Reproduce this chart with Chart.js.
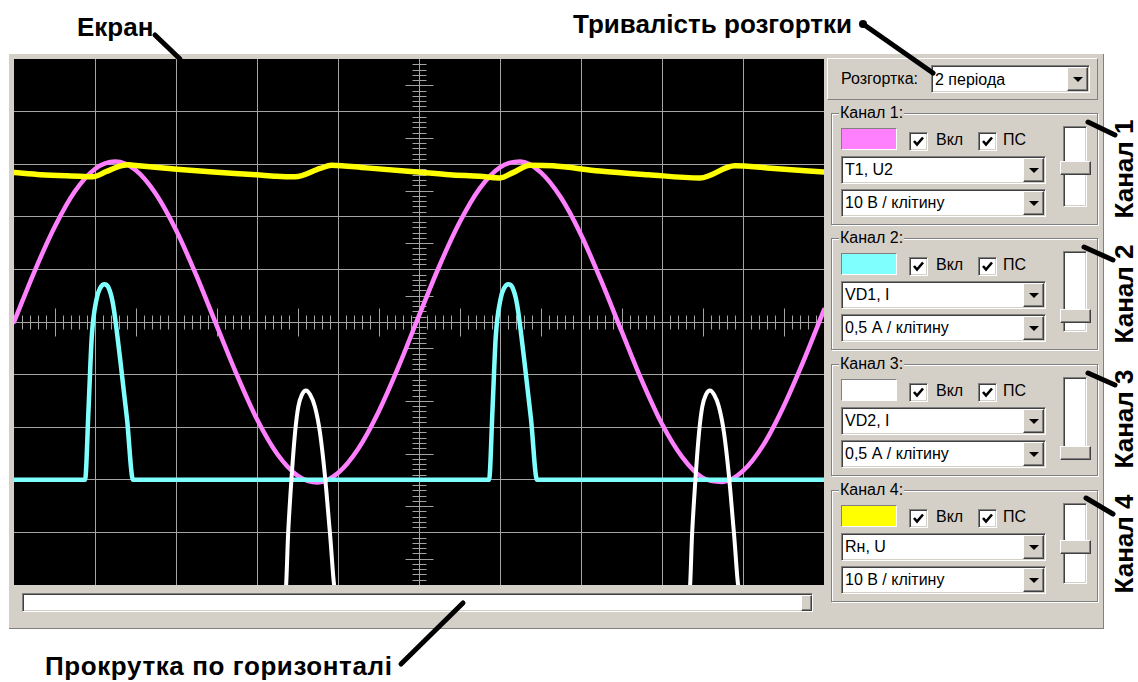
<!DOCTYPE html>
<html lang="uk">
<head>
<meta charset="utf-8">
<title>Осцилограф</title>
<script src="https://cdn.jsdelivr.net/npm/chart.js@4.4.1/dist/chart.umd.min.js"></script>
<style>
  html, body { margin: 0; padding: 0; background: #fff; }
  body { width: 1138px; height: 682px; position: relative; overflow: hidden;
         font-family: "Liberation Sans", Arial, sans-serif; font-size: 16px; color: #000; }
  .abs { position: absolute; box-sizing: border-box; }
  .note { position: absolute; font-weight: bold; font-size: 26px; line-height: 26px; white-space: nowrap; }
  .vnote { position: absolute; font-weight: bold; font-size: 26px; line-height: 26px; white-space: nowrap;
           transform: translate(-50%, -50%) rotate(-90deg); }
  .frame { left: 9px; top: 54px; width: 1095px; height: 575px; background: #d4d0c8;
           border-right: 1px solid #808080; border-bottom: 1px solid #808080; }
  .screen { left: 14px; top: 59px; width: 810px; height: 526px; background: #000; }
  .raised { background: #d4d0c8; border-top: 1px solid #fff; border-left: 1px solid #fff;
            border-right: 1px solid #404040; border-bottom: 1px solid #404040;
            box-shadow: inset -1px -1px 0 #808080; }
  .sunken { background: #fff; border-top: 1px solid #808080; border-left: 1px solid #808080;
            border-right: 1px solid #fff; border-bottom: 1px solid #fff;
            box-shadow: inset 1px 1px 0 #404040, inset -1px -1px 0 #d4d0c8; }
  .group { position: absolute; left: 831px; width: 267px; height: 112px; box-sizing: border-box;
           border: 1px solid #808080; box-shadow: inset 1px 1px 0 #fff, 1px 1px 0 #fff; }
  .glabel { position: absolute; left: 7px; top: -10px; line-height: 18px; background: #d4d0c8; padding: 0 1px; }
  .swatch { position: absolute; left: 9px; top: 14px; width: 56px; height: 22px; box-sizing: border-box;
            border-top: 1px solid #808080; border-left: 1px solid #808080;
            border-right: 1px solid #fff; border-bottom: 1px solid #fff; }
  .chk { position: absolute; top: 18px; width: 17px; height: 17px; }
  .chk svg { position: absolute; left: 1px; top: 1px; }
  .clabel { position: absolute; top: 17px; line-height: 18px; }
  .combo { position: absolute; height: 26px; }
  .combo .txt { position: absolute; left: 3px; top: 3px; line-height: 19px; white-space: nowrap; }
  .combo .btn { position: absolute; right: 1px; top: 1px; width: 21px; bottom: 1px; box-sizing: border-box; }
  .combo .btn::after { content: ""; position: absolute; left: 5px; top: 9px; width: 0; height: 0;
                       border-left: 5px solid transparent; border-right: 5px solid transparent;
                       border-top: 5px solid #000; }
  .track { position: absolute; left: 231px; top: 12px; width: 22px; height: 79px; }
  .thumb { position: absolute; left: 228px; width: 29px; height: 12px; }
</style>
</head>
<body>

<!-- window frame -->
<div class="abs frame"></div>
<div class="abs screen"><canvas id="scope" width="810" height="526" style="display:block;width:810px;height:526px"></canvas></div>

<!-- horizontal scroll bar -->
<div class="abs sunken" style="left:22px;top:593px;width:791px;height:19px;"></div>
<div class="abs raised" style="left:801px;top:595px;width:11px;height:16px;"></div>

<!-- sweep selector -->
<div class="abs raised" style="left:827px;top:58px;width:271px;height:42px;box-shadow:none;border-right-color:#808080;border-bottom-color:#808080;"></div>
<div class="abs" style="left:841px;top:70px;line-height:18px;">Розгортка:</div>
<div class="abs combo sunken" style="left:931px;top:65px;width:159px;height:28px;">
  <span class="txt" style="top:4px">2 періода</span><div class="btn raised"></div>
</div>

<div id="groups"></div>

<!-- annotations -->
<div class="note" style="left:77px;top:14px;">Екран</div>
<div class="note" style="left:573px;top:11px;">Тривалість розгортки</div>
<div class="note" style="left:45px;top:653px;letter-spacing:0.6px;">Прокрутка по горизонталі</div>
<div class="vnote" style="left:1124px;top:169px;">Канал 1</div>
<div class="vnote" style="left:1124px;top:294px;">Канал 2</div>
<div class="vnote" style="left:1124px;top:419px;">Канал 3</div>
<div class="vnote" style="left:1124px;top:544px;">Канал 4</div>

<svg class="abs" width="1138" height="682" style="left:0;top:0;pointer-events:none;">
  <g stroke="#000" stroke-width="5" stroke-linecap="round" fill="none">
    <line x1="155" y1="35" x2="180" y2="59"/>
    <line x1="863" y1="24" x2="933" y2="73"/>
    <line x1="401" y1="664" x2="463" y2="603"/>
    <line x1="1088" y1="122" x2="1115" y2="135"/>
    <line x1="1084" y1="247" x2="1113" y2="260"/>
    <line x1="1088" y1="373" x2="1115" y2="385"/>
    <line x1="1086" y1="498" x2="1113" y2="514"/>
  </g>
  <circle cx="863" cy="24" r="4" fill="#000"/>
</svg>

<script>
// Time base: 10 divisions of 4 ms each
const sweepMs = 40;
const msPerDiv = 4;

// Channel 1 — T1, U2 (V)
const ch1Time = [0, 1, 2, 3, 4, 5, 6, 7, 8, 9, 10, 11, 12, 13, 14, 15, 16, 17, 18, 19, 20,
                 21, 22, 23, 24, 25, 26, 27, 28, 29, 30, 31, 32, 33, 34, 35, 36, 37, 38, 39, 40];
const ch1Volts = [0, 9.5, 18.0, 24.8, 29.1, 30.5, 28.9, 24.4, 17.5, 8.9, -0.6,
                  -10.0, -18.5, -25.1, -29.2, -30.5, -28.7, -24.1, -17.1, -8.4, 1.2,
                  10.6, 18.9, 25.4, 29.4, 30.5, 28.5, 23.7, 16.6, 7.8, -1.7,
                  -11.1, -19.4, -25.7, -29.6, -30.4, -28.3, -23.4, -16.1, -7.3, 2.3];

// Channel 2 — VD1, I (A)
const ch2Time = [0, 3.51, 3.68, 3.84, 4.08, 4.25, 4.46, 4.66, 4.89, 5.24, 5.58, 5.88,
                 23.46, 23.63, 23.79, 24.03, 24.20, 24.41, 24.61, 24.84, 25.19, 25.53, 25.83, 40];
const ch2Amps = [0, 0, 0.67, 1.36, 1.72, 1.82, 1.86, 1.83, 1.67, 1.15, 0.58, 0,
                 0, 0.67, 1.36, 1.72, 1.82, 1.86, 1.83, 1.67, 1.15, 0.58, 0, 0];

// Channel 3 — VD2, I (A)
const ch3Time = [0, 13.41, 13.54, 13.71, 13.88, 14.04, 14.22, 14.42, 14.62, 14.86, 15.11, 15.36, 15.60, 15.87,
                 33.36, 33.49, 33.66, 33.83, 33.99, 34.17, 34.37, 34.57, 34.81, 35.06, 35.31, 35.55, 35.82, 40];
const ch3Amps = [0, 0, 0.55, 1.08, 1.5, 1.745, 1.86, 1.9, 1.86, 1.745, 1.5, 1.08, 0.55, 0,
                 0, 0.55, 1.08, 1.5, 1.745, 1.86, 1.9, 1.86, 1.745, 1.5, 1.08, 0.55, 0, 0];

// Channel 4 — Rн, U (V)
const ch4Time = [0, 1.32, 3.24, 3.88, 4.56, 5.12, 5.64, 5.88, 8.2, 9.84, 11.96, 12.96, 13.88,
                 15.12, 15.68, 17.4, 19.96, 21.52, 23.0, 24.0, 24.64, 25.48, 26.6, 28.92,
                 31.32, 33.88, 35.6, 37.2, 40];
const ch4Volts = [28.4, 28.0, 27.7, 27.6, 28.6, 29.5, 29.9, 29.8, 29.0, 28.5, 28.0, 27.7, 27.6,
                  29.2, 29.8, 29.3, 28.5, 28.0, 27.7, 27.4, 28.4, 29.8, 29.7, 28.7,
                  28.0, 27.4, 29.7, 29.3, 28.5];

// Sensitivity (units per division) and vertical offset (divisions) per channel
const unitsPerDiv = [10, 0.5, 0.5, 10];
const offsetDiv = [0, -3, -5.1, 0];
const channelNames = ['T1, U2', 'VD1, I', 'VD2, I', 'Rн, U'];
const channelRanges = ['10 В / клітину', '0,5 А / клітину', '0,5 А / клітину', '10 В / клітину'];
const channelColors = ['#ff80ff', '#80ffff', '#ffffff', '#ffff00'];
const sliderTop = [47, 70, 81, 49];

const gridColor = '#a4a4a4';

// Control panel: one group per channel
const groupsEl = document.getElementById('groups');
const groupTops = [113, 238, 364, 490];
const tick = '<svg width="15" height="15" viewBox="0 0 15 15"><polyline points="3,7 6,10.5 12,3.5" fill="none" stroke="#000" stroke-width="2.6"/></svg>';
groupTops.forEach((top, i) => {
  const g = document.createElement('div');
  g.className = 'group';
  g.style.top = top + 'px';
  g.innerHTML =
    '<span class="glabel">Канал ' + (i + 1) + ':</span>' +
    '<div class="swatch" style="background:' + channelColors[i] + '"></div>' +
    '<div class="chk sunken" style="left:77px">' + tick + '</div><span class="clabel" style="left:104px">Вкл</span>' +
    '<div class="chk sunken" style="left:146px">' + tick + '</div><span class="clabel" style="left:171px">ПС</span>' +
    '<div class="combo sunken" style="left:9px;top:42px;width:203px"><span class="txt">' + channelNames[i] + '</span><div class="btn raised"></div></div>' +
    '<div class="combo sunken" style="left:9px;top:75px;width:203px"><span class="txt">' + channelRanges[i] + '</span><div class="btn raised"></div></div>' +
    '<div class="track sunken"></div>' +
    '<div class="thumb raised" style="top:' + sliderTop[i] + 'px"></div>';
  groupsEl.appendChild(g);
});

function toPoints(times, values, ch) {
  return times.map((t, i) => ({ x: t, y: values[i] / unitsPerDiv[ch] + offsetDiv[ch] }));
}

// Centre cross with fine graduations
const scopeAxes = {
  id: 'scopeAxes',
  beforeDatasetsDraw(chart) {
    const { ctx, scales: { x, y } } = chart;
    const cx = Math.round(x.getPixelForValue(sweepMs / 2)) + 0.5;
    const cy = Math.round(y.getPixelForValue(0)) + 0.5;
    ctx.save();
    ctx.strokeStyle = gridColor;
    ctx.lineWidth = 1;
    ctx.beginPath();
    for (let i = 1; i < 100; i++) {
      if (i % 10 === 0) continue;
      const h = i % 10 === 5 ? 14 : 7;
      const px = Math.round(x.getPixelForValue(i * msPerDiv / 10)) + 0.5;
      ctx.moveTo(px, cy - h); ctx.lineTo(px, cy + h);
      const py = Math.round(y.getPixelForValue(-5 + i / 10)) + 0.5;
      ctx.moveTo(cx - h, py); ctx.lineTo(cx + h, py);
    }
    ctx.stroke();
    ctx.restore();
  }
};

const series = [
  { data: toPoints(ch4Time, ch4Volts, 3), color: channelColors[3], width: 5.5, order: 1 },
  { data: toPoints(ch3Time, ch3Amps, 2), color: channelColors[2], width: 4, order: 2 },
  { data: toPoints(ch2Time, ch2Amps, 1), color: channelColors[1], width: 4.5, order: 3 },
  { data: toPoints(ch1Time, ch1Volts, 0), color: channelColors[0], width: 4.5, order: 4 }
];

const edgeHidden = (min, max) => (c) =>
  (c.tick && (c.tick.value === min || c.tick.value === max)) ? 'rgba(0,0,0,0)' : gridColor;

new Chart(document.getElementById('scope'), {
  type: 'line',
  data: {
    datasets: series.map(s => ({
      data: s.data,
      borderColor: s.color,
      borderWidth: s.width,
      pointRadius: 0,
      cubicInterpolationMode: 'monotone',
      borderJoinStyle: 'round',
      borderCapStyle: 'round',
      fill: false,
      clip: 0,
      order: s.order
    }))
  },
  options: {
    responsive: false,
    animation: false,
    events: [],
    layout: { padding: 0 },
    plugins: { legend: { display: false }, tooltip: { enabled: false } },
    scales: {
      x: {
        type: 'linear', min: 0, max: sweepMs,
        ticks: { display: false, stepSize: msPerDiv },
        grid: { color: edgeHidden(0, sweepMs), drawTicks: false, lineWidth: 1 },
        border: { display: false }
      },
      y: {
        type: 'linear', min: -5, max: 5,
        ticks: { display: false, stepSize: 1 },
        grid: { color: edgeHidden(-5, 5), drawTicks: false, lineWidth: 1 },
        border: { display: false }
      }
    }
  },
  plugins: [scopeAxes]
});
</script>
</body>
</html>
